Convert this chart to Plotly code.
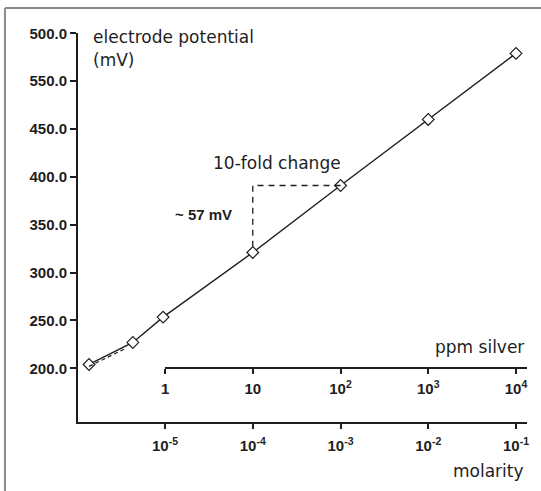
import plotly.graph_objects as go

# ---- data ----
molarity = [1.36e-6, 4.3e-6, 9.5e-6, 1e-4, 1e-3, 1e-2, 1e-1]
potential_mv = [204.0, 227.0, 253.5, 321.0, 391.0, 460.0, 529.0]

dev_x = [1.36e-6, 3.6e-6]        # dashed deviation segment at low end
dev_y = [202.0, 221.0]

y_tickvals = [200, 250, 300, 350, 400, 450, 500, 550]
y_ticktext = ["200.0", "250.0", "300.0", "350.0", "400.0", "450.0", "550.0", "500.0"]

mol_tickvals = [1e-5, 1e-4, 1e-3, 1e-2, 1e-1]
mol_ticktext = ["10<sup>-5</sup>", "10<sup>-4</sup>", "10<sup>-3</sup>", "10<sup>-2</sup>", "10<sup>-1</sup>"]

ppm_tickvals = [1, 10, 100, 1000, 10000]
ppm_ticktext = ["1", "10", "10<sup>2</sup>", "10<sup>3</sup>", "10<sup>4</sup>"]

# ---- layout geometry (pixels) ----
W, H = 541, 491
L, R, T, B = 78, 526.7, 33, 421.7


def fx(px):
    return (px - L) / (R - L)


def fy(py):
    return (B - py) / (B - T)


DARK = "#1e1e1e"
tickfont = dict(family="Liberation Sans, Arial, sans-serif", size=15, weight="bold", color=DARK)
txtfont = dict(family="DejaVu Sans, sans-serif", size=17, color=DARK)

fig = go.Figure()

# main curve
fig.add_trace(go.Scatter(
    x=molarity, y=potential_mv, mode="lines+markers",
    line=dict(color=DARK, width=1.4),
    marker=dict(symbol="diamond", size=9, color="white", line=dict(color=DARK, width=1.2)),
    hoverinfo="skip", showlegend=False,
))

# dashed deviation at low end
fig.add_trace(go.Scatter(
    x=dev_x, y=dev_y, mode="lines",
    line=dict(color=DARK, width=1.2, dash="4px,3px"),
    hoverinfo="skip", showlegend=False,
))

# 10-fold change guide
fig.add_trace(go.Scatter(
    x=[molarity[3], molarity[3], molarity[4]],
    y=[potential_mv[3] + 6, potential_mv[4], potential_mv[4]],
    mode="lines",
    line=dict(color=DARK, width=1.3, dash="6px,5px"),
    hoverinfo="skip", showlegend=False,
))

# invisible trace to show ppm axis
fig.add_trace(go.Scatter(
    x=[1], y=[200], xaxis="x2", yaxis="y", mode="markers",
    marker=dict(opacity=0), hoverinfo="skip", showlegend=False,
))

mol_lo, mol_hi = -5.992, -0.875
ppm_start_px = 165.0
dec_px = (R - L) / (mol_hi - mol_lo)
ppm_hi = (R - ppm_start_px) / dec_px

y_lo = 200 - (B - 368) / ((368 - 33) / 350.0)

fig.update_layout(
    width=W, height=H,
    margin=dict(l=L, r=W - R, t=T, b=H - B, pad=0),
    paper_bgcolor="white", plot_bgcolor="rgba(0,0,0,0)",
    xaxis=dict(
        type="log", range=[mol_lo, mol_hi], domain=[0, 1],
        showline=True, linecolor=DARK, linewidth=2,
        ticks="outside", ticklen=5, tickwidth=1.5, tickcolor=DARK,
        tickvals=mol_tickvals, ticktext=mol_ticktext, tickfont=tickfont,
        ticklabelstandoff=4,
        showgrid=False, zeroline=False, fixedrange=True,
    ),
    xaxis2=dict(
        type="log", range=[0, ppm_hi], domain=[fx(ppm_start_px), 1],
        anchor="free", position=fy(368),
        showline=True, linecolor=DARK, linewidth=2,
        ticks="outside", ticklen=5, tickwidth=1.5, tickcolor=DARK,
        tickvals=ppm_tickvals, ticktext=ppm_ticktext, tickfont=tickfont,
        ticklabelstandoff=2,
        showgrid=False, zeroline=False, fixedrange=True,
    ),
    yaxis=dict(
        range=[y_lo, 550.3], domain=[0, 1],
        showline=True, linecolor=DARK, linewidth=2,
        ticks="outside", ticklen=6, tickwidth=1.5, tickcolor=DARK,
        tickvals=y_tickvals, ticktext=y_ticktext, tickfont=tickfont,
        showgrid=False, zeroline=False, fixedrange=True,
    ),
    showlegend=False,
)

# outer frame (top and left only)
fig.add_shape(type="line", xref="paper", yref="paper",
              x0=fx(5), x1=fx(541), y0=fy(8), y1=fy(8),
              line=dict(color="#8a8a8a", width=2))
fig.add_shape(type="line", xref="paper", yref="paper",
              x0=fx(5), x1=fx(5), y0=fy(8), y1=fy(491),
              line=dict(color="#8a8a8a", width=2))

anns = [
    ("electrode potential", 91, 37, "left", txtfont),
    ("(mV)", 91, 60, "left", txtfont),
    ("10-fold change", 211, 163, "left", txtfont),
    ("~ 57 mV", 173, 214, "left", tickfont),
    ("ppm silver", 526, 347, "right", txtfont),
    ("molarity", 526, 471, "right", txtfont),
]
for text, px, py, xa, f in anns:
    fig.add_annotation(text=text, xref="paper", yref="paper", x=fx(px), y=fy(py),
                       xanchor=xa, yanchor="middle", showarrow=False, font=f)

fig.write_html("out.html")
